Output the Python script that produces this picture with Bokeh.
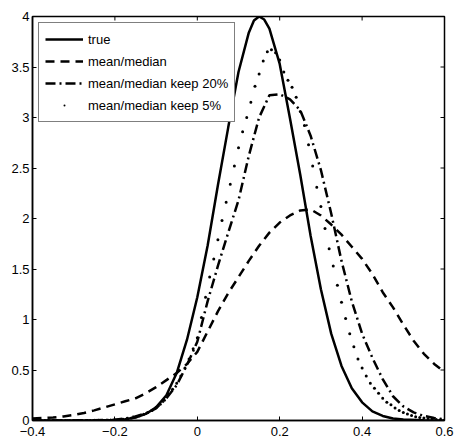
from bokeh.plotting import figure
from bokeh.models import Range1d, FixedTicker, Legend, LegendItem
from bokeh.embed import file_html
from bokeh.resources import INLINE

# ---- data ----
true_x = [-0.4, -0.35, -0.3, -0.25, -0.2, -0.175, -0.15, -0.125, -0.1, -0.075, -0.05, -0.025,
          0.0, 0.025, 0.05, 0.075, 0.1, 0.125, 0.1375, 0.15, 0.1625, 0.175, 0.2, 0.225, 0.25,
          0.275, 0.3, 0.325, 0.35, 0.375, 0.4, 0.425, 0.45, 0.475, 0.5, 0.55, 0.6]
true_y = [0.0, 0.0, 0.001, 0.002, 0.006, 0.013, 0.03, 0.065, 0.13, 0.25, 0.47, 0.8,
          1.22, 1.73, 2.33, 2.9, 3.45, 3.84, 3.96, 4.0, 3.97, 3.88, 3.53, 2.99, 2.43,
          1.83, 1.3, 0.86, 0.54, 0.32, 0.18, 0.09, 0.045, 0.02, 0.009, 0.002, 0.0]

mm_x = [-0.4, -0.375, -0.35, -0.325, -0.3, -0.275, -0.25, -0.225, -0.2, -0.175, -0.15, -0.125,
        -0.1, -0.075, -0.05, -0.025, 0.0, 0.025, 0.05, 0.075, 0.1, 0.125, 0.15, 0.175, 0.2,
        0.225, 0.25, 0.275, 0.3, 0.325, 0.35, 0.375, 0.4, 0.425, 0.45, 0.475, 0.5, 0.525,
        0.55, 0.575, 0.6]
mm_y = [0.02, 0.025, 0.03, 0.04, 0.055, 0.075, 0.1, 0.13, 0.16, 0.19, 0.22, 0.27,
        0.33, 0.4, 0.47, 0.56, 0.68, 0.88, 1.08, 1.26, 1.42, 1.58, 1.73, 1.86, 1.96,
        2.03, 2.08, 2.09, 2.03, 1.94, 1.84, 1.72, 1.6, 1.45, 1.27, 1.12, 0.95, 0.79,
        0.66, 0.56, 0.48]

k20_x = [-0.4, -0.35, -0.3, -0.25, -0.2, -0.175, -0.15, -0.125, -0.1, -0.075, -0.05, -0.025,
         0.0, 0.025, 0.05, 0.075, 0.1, 0.125, 0.15, 0.175, 0.2, 0.225, 0.25, 0.275, 0.3,
         0.325, 0.35, 0.375, 0.4, 0.425, 0.45, 0.475, 0.5, 0.525, 0.55, 0.575, 0.6]
k20_y = [0.0, 0.0, 0.001, 0.002, 0.008, 0.02, 0.04, 0.07, 0.12, 0.22, 0.35, 0.55,
         0.78, 1.18, 1.53, 1.86, 2.18, 2.62, 3.0, 3.22, 3.23, 3.18, 3.07, 2.82, 2.48,
         2.05, 1.58, 1.18, 0.86, 0.62, 0.41, 0.24, 0.14, 0.08, 0.045, 0.025, 0.01]

k5_x = [round(-0.4 + 0.01 * i, 2) for i in range(101)]
k5_y = [0, 0, 0, 0, 0, 0, 0, 0, 0, 0, 0,
        0.001, 0.001, 0.001, 0.001, 0.002, 0.002, 0.003, 0.003, 0.004,
        0.005, 0.008, 0.012, 0.017, 0.025, 0.035, 0.047, 0.062, 0.08, 0.1,
        0.13, 0.16, 0.2, 0.26, 0.31, 0.37, 0.44, 0.52, 0.61, 0.71,
        0.82, 1.02, 1.22, 1.42, 1.6, 1.79, 1.98, 2.16, 2.34, 2.52,
        2.7, 2.86, 3.0, 3.15, 3.31, 3.43, 3.56, 3.65, 3.67, 3.64,
        3.57, 3.45, 3.37, 3.3, 3.2, 3.06, 2.92, 2.73, 2.52, 2.31,
        2.12, 1.9, 1.7, 1.53, 1.34, 1.17, 1.01, 0.86, 0.73, 0.61,
        0.52, 0.44, 0.37, 0.32, 0.27, 0.22, 0.18, 0.155, 0.125, 0.1,
        0.08, 0.065, 0.05, 0.037, 0.03, 0.024, 0.018, 0.014, 0.01, 0.007, 0.005]

x_ticks = [-0.4, -0.2, 0, 0.2, 0.4, 0.6]
x_tick_labels = ["\u22120.4", "\u22120.2", "0", "0.2", "0.4", "0.6"]
y_ticks = [0, 0.5, 1, 1.5, 2, 2.5, 3, 3.5, 4]
y_tick_labels = ["0", "0.5", "1", "1.5", "2", "2.5", "3", "3.5", "4"]

labels = ["true", "mean/median", "mean/median keep 20%", "mean/median keep 5%"]

X0, X1, Y0, Y1 = -0.4, 0.6, 0.0, 4.0
FONT = "Liberation Sans"

W, H = 455, 443
BL, BR, BT, BB = 32, 11, 16, 23

p = figure(width=W, height=H, x_range=Range1d(X0, X1), y_range=Range1d(Y0, Y1),
           output_backend="svg", toolbar_location=None,
           min_border_left=BL, min_border_right=BR, min_border_top=BT, min_border_bottom=BB)
p.xgrid.visible = False
p.ygrid.visible = False
p.outline_line_color = "black"
p.outline_line_width = 1.5
p.background_fill_color = "white"
p.border_fill_color = "white"


def style_axis(ax, ticks, labs, standoff):
    ax.ticker = FixedTicker(ticks=ticks)
    ax.major_label_overrides = {t: l for t, l in zip(ticks, labs)}
    ax.minor_tick_line_color = None
    ax.major_tick_in = 4
    ax.major_tick_out = 0
    ax.major_tick_line_color = "black"
    ax.major_tick_line_width = 1
    ax.axis_line_color = "black"
    ax.axis_line_width = 1.5
    ax.major_label_text_font = FONT
    ax.major_label_text_color = "black"
    ax.major_label_text_font_size = "13px"
    ax.major_label_standoff = standoff


style_axis(p.xaxis[0], x_ticks, x_tick_labels, 6)
style_axis(p.yaxis[0], y_ticks, y_tick_labels, 3)

# inward ticks on the top and right edges of the box (MATLAB "box on")
frame_w = W - BL - BR
frame_h = H - BT - BB
tick_len_x = 4 * (X1 - X0) / frame_w
tick_len_y = 4 * (Y1 - Y0) / frame_h
p.segment(x0=x_ticks, y0=[Y1] * len(x_ticks), x1=x_ticks, y1=[Y1 - tick_len_y] * len(x_ticks),
          line_color="black", line_width=1)
p.segment(x0=[X1] * len(y_ticks), y0=y_ticks, x1=[X1 - tick_len_x] * len(y_ticks), y1=y_ticks,
          line_color="black", line_width=1)

r_true = p.line(true_x, true_y, line_color="black", line_width=2.5)
r_mm = p.line(mm_x, mm_y, line_color="black", line_width=2.5, line_dash="9 6")
r_k20 = p.line(k20_x, k20_y, line_color="black", line_width=2.5, line_dash="10 4 2 4")
r_k5 = p.scatter(k5_x, k5_y, marker="dot", size=12, fill_color="black", line_color="black",
                 line_width=1.8)

legend = Legend(items=[LegendItem(label=labels[0], renderers=[r_true]),
                       LegendItem(label=labels[1], renderers=[r_mm]),
                       LegendItem(label=labels[2], renderers=[r_k20]),
                       LegendItem(label=labels[3], renderers=[r_k5])],
                location="top_left")
legend.margin = 6
legend.padding = 6
legend.spacing = 2
legend.label_height = 20
legend.glyph_height = 20
legend.glyph_width = 38
legend.label_standoff = 5
legend.label_text_font = FONT
legend.label_text_font_size = "13px"
legend.label_text_color = "black"
legend.border_line_color = "black"
legend.border_line_width = 1.5
legend.background_fill_color = "white"
legend.background_fill_alpha = 1.0
p.add_layout(legend)

open("out.html", "w").write(file_html(p, INLINE))
